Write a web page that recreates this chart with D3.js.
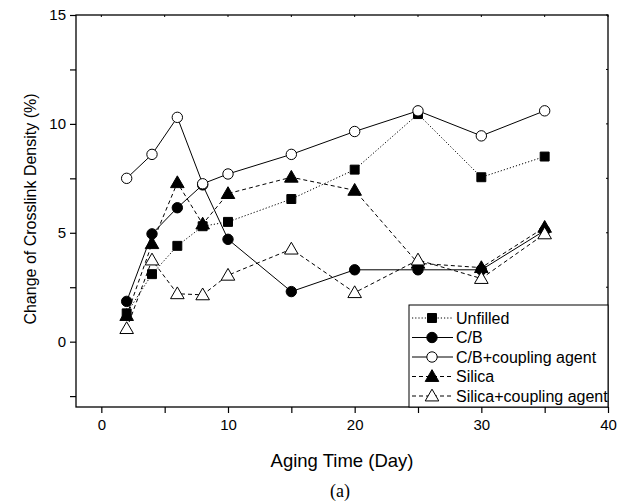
<!DOCTYPE html>
<html>
<head>
<meta charset="utf-8">
<script src="https://cdn.jsdelivr.net/npm/d3@7.9.0/dist/d3.min.js"></script>
<style>
  body { margin: 0; background: #fff; }
  text { font-family: Arial, "Liberation Sans", sans-serif; fill: #000; }
</style>
</head>
<body>
<svg id="chart"></svg>
<script>
const width = 625;
const height = 502;

// Data
const days = [2, 4, 6, 8, 10, 15, 20, 25, 30, 35];
const unfilled = [1.3, 3.1, 4.4, 5.3, 5.5, 6.55, 7.9, 10.45, 7.55, 8.5];
const cb = [1.85, 4.95, 6.15, 7.2, 4.7, 2.3, 3.3, 3.3, 3.3, 5.1];
const cbCoupling = [7.5, 8.6, 10.3, 7.25, 7.7, 8.6, 9.65, 10.6, 9.45, 10.6];
const silica = [1.2, 4.5, 7.3, 5.4, 6.8, 7.55, 6.95, 3.6, 3.4, 5.25];
const silicaCoupling = [0.6, 3.75, 2.2, 2.15, 3.05, 4.25, 2.25, 3.75, 2.9, 4.95];

const seriesNames = ["Unfilled", "C/B", "C/B+coupling agent", "Silica", "Silica+coupling agent"];
const seriesValues = [unfilled, cb, cbCoupling, silica, silicaCoupling];
const seriesSymbols = ["square", "circle", "circle", "triangle", "triangle"];
const seriesFilled = [true, true, false, true, false];
const seriesDash = ["1.2,2", null, null, "4,3", "4,3"];

const xTicks = [0, 10, 20, 30, 40];
const yTicks = [0, 5, 10, 15];

const margin = {top: 15, right: 17, bottom: 95, left: 76};

const svg = d3.select("#chart").attr("width", width).attr("height", height);

const x = d3.scaleLinear().domain([-2, 40]).range([margin.left, width - margin.right]);
const y = d3.scaleLinear().domain([-3, 15]).range([height - margin.bottom, margin.top]);

const plotL = x.range()[0], plotR = x.range()[1];
const plotT = y.range()[1], plotB = y.range()[0];

// frame
svg.append("rect")
    .attr("x", plotL).attr("y", plotT)
    .attr("width", plotR - plotL).attr("height", plotB - plotT)
    .attr("fill", "none").attr("stroke", "#000").attr("stroke-width", 1.3);

// bottom axis (outward ticks every 5, labels every 10)
const xAxis = d3.axisBottom(x)
    .tickValues(d3.range(0, 41, 5))
    .tickSize(6)
    .tickFormat(d => xTicks.includes(d) ? d : "");
svg.append("g")
    .attr("transform", `translate(0,${plotB})`)
    .call(xAxis)
    .call(g => g.select(".domain").remove())
    .call(g => g.selectAll("line").attr("stroke-width", 1.2))
    .call(g => g.selectAll("text").style("font-size", "15px").attr("dy", "0.95em"));

// left axis (outward ticks every 2.5, labels every 5)
const yAxis = d3.axisLeft(y)
    .tickValues(d3.range(-2.5, 15.1, 2.5))
    .tickSize(6)
    .tickFormat(d => yTicks.includes(d) ? d : "");
svg.append("g")
    .attr("transform", `translate(${plotL},0)`)
    .call(yAxis)
    .call(g => g.select(".domain").remove())
    .call(g => g.selectAll("line").attr("stroke-width", 1.2))
    .call(g => g.selectAll("text").style("font-size", "15px").attr("x", -10));

// tiny inward ticks on top and right
svg.append("g").selectAll("line")
    .data(d3.range(0, 41, 5))
    .join("line")
    .attr("x1", d => x(d)).attr("x2", d => x(d))
    .attr("y1", plotT).attr("y2", plotT + 2)
    .attr("stroke", "#000");
svg.append("g").selectAll("line")
    .data(d3.range(-2.5, 15.1, 2.5))
    .join("line")
    .attr("x1", plotR).attr("x2", plotR - 2)
    .attr("y1", d => y(d)).attr("y2", d => y(d))
    .attr("stroke", "#000");

// axis titles
svg.append("text")
    .attr("x", (plotL + plotR) / 2)
    .attr("y", 467)
    .attr("text-anchor", "middle")
    .style("font-size", "18.5px")
    .text("Aging Time (Day)");

svg.append("text")
    .attr("transform", `translate(36,${(plotT + plotB) / 2 - 2}) rotate(-90)`)
    .attr("text-anchor", "middle")
    .style("font-size", "16px")
    .text("Change of Crosslink Density (%)");

svg.append("text")
    .attr("x", 340)
    .attr("y", 497)
    .attr("text-anchor", "middle")
    .style("font-family", "'Times New Roman', 'Liberation Serif', serif")
    .style("font-size", "18px")
    .text("(a)");

function symbolFor(type) {
    if (type === "square") return d3.symbol().type(d3.symbolSquare).size(80);
    if (type === "circle") return d3.symbol().type(d3.symbolCircle).size(85);
    return d3.symbol().type(d3.symbolTriangle).size(80);
}

const line = d3.line().x(d => x(d[0])).y(d => y(d[1]));

// draw series (lines first, then markers)
seriesValues.forEach((vals, i) => {
    const pts = days.map((d, j) => [d, vals[j]]);
    svg.append("path")
        .datum(pts)
        .attr("d", line)
        .attr("fill", "none")
        .attr("stroke", "#000")
        .attr("stroke-width", 1)
        .attr("stroke-dasharray", seriesDash[i]);
});

seriesValues.forEach((vals, i) => {
    const pts = days.map((d, j) => [d, vals[j]]);
    svg.append("g").selectAll("path")
        .data(pts)
        .join("path")
        .attr("d", symbolFor(seriesSymbols[i]))
        .attr("transform", d => `translate(${x(d[0])},${y(d[1]) + (seriesSymbols[i] === "triangle" ? 1 : 0)})`)
        .attr("fill", seriesFilled[i] ? "#000" : "#fff")
        .attr("stroke", "#000")
        .attr("stroke-width", 1);
});

// legend
const legX = 409, legY = 305, legW = plotR - 409, legH = plotB - 305;
const legend = svg.append("g");
legend.append("rect")
    .attr("x", legX).attr("y", legY)
    .attr("width", legW).attr("height", legH)
    .attr("fill", "#fff").attr("stroke", "#000").attr("stroke-width", 1);

seriesNames.forEach((name, i) => {
    const ry = legY + 13 + i * 19.5;
    legend.append("line")
        .attr("x1", legX + 3).attr("x2", legX + 44)
        .attr("y1", ry).attr("y2", ry)
        .attr("stroke", "#000")
        .attr("stroke-dasharray", seriesDash[i]);
    legend.append("path")
        .attr("d", symbolFor(seriesSymbols[i]))
        .attr("transform", `translate(${legX + 23},${ry + (seriesSymbols[i] === "triangle" ? 1 : 0)})`)
        .attr("fill", seriesFilled[i] ? "#000" : "#fff")
        .attr("stroke", "#000");
    legend.append("text")
        .attr("x", legX + 47)
        .attr("y", ry)
        .attr("dy", "0.35em")
        .style("font-size", "16px")
        .text(name);
});
</script>
</body>
</html>
